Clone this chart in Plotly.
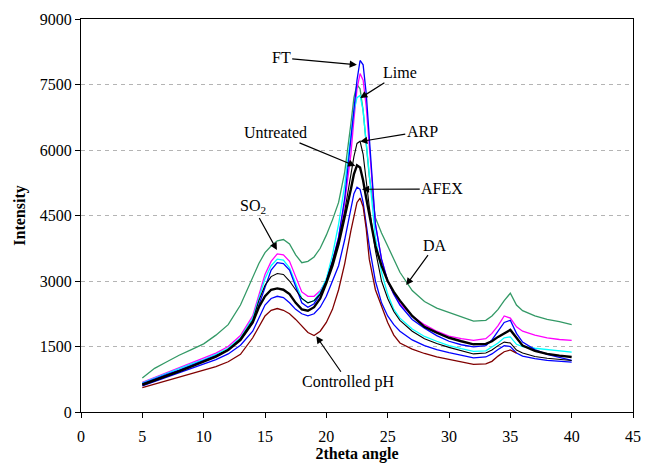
import plotly.graph_objects as go

X = [5, 6, 7, 8, 9, 10, 11, 12, 13, 14, 14.5, 15, 15.5, 16, 16.5, 17, 17.5, 18, 18.5, 19, 19.5,
     20, 20.5, 21, 21.5, 22, 22.25, 22.5, 22.75, 23, 23.25, 23.5, 24, 24.5, 25, 25.5, 26, 27, 28,
     29, 30, 31, 32, 33, 33.5, 34, 34.5, 35, 35.5, 36, 37, 38, 39, 40]

DA = [780, 1000, 1150, 1300, 1430, 1560, 1760, 2000, 2450, 3100, 3400, 3650, 3800, 3920, 3950,
      3850, 3600, 3420, 3450, 3550, 3750, 4050, 4400, 4800, 5500, 6600, 7200, 7500, 7400, 6900,
      6200, 5400, 4450, 4100, 3800, 3500, 3200, 2780, 2530, 2380, 2280, 2180, 2080, 2100, 2200,
      2350, 2550, 2720, 2450, 2320, 2200, 2120, 2070, 2000]

FT = [650, 760, 860, 960, 1070, 1170, 1290, 1420, 1650, 2050, 2450, 2900, 3250, 3420, 3400,
      3250, 2850, 2500, 2400, 2480, 2700, 3000, 3450, 4000, 4900, 6200, 6900, 7600, 8050, 7950,
      7300, 6300, 4300, 3500, 3000, 2700, 2450, 2120, 1920, 1750, 1620, 1540, 1490, 1520, 1650,
      1850, 2050, 2100, 1800, 1600, 1430, 1320, 1250, 1180]

SO2 = [680, 790, 900, 1010, 1120, 1230, 1350, 1500, 1750, 2200, 2650, 3150, 3450, 3620, 3600,
       3450, 3100, 2750, 2650, 2650, 2780, 3000, 3450, 4000, 4800, 5900, 6700, 7400, 7750, 7600,
       7000, 6100, 4300, 3500, 3000, 2700, 2480, 2200, 2000, 1850, 1740, 1680, 1640, 1680, 1800,
       1980, 2200, 2150, 1950, 1850, 1760, 1700, 1660, 1640]

LIME = [670, 780, 880, 990, 1100, 1200, 1320, 1460, 1700, 2150, 2600, 3050, 3350, 3500, 3480,
        3300, 2950, 2600, 2500, 2550, 2750, 3050, 3600, 4300, 5200, 6300, 6900, 7200, 7250, 6900,
        6200, 5400, 4000, 3200, 2700, 2350, 2150, 1900, 1730, 1620, 1520, 1450, 1390, 1400, 1480,
        1580, 1700, 1720, 1550, 1500, 1460, 1430, 1400, 1370]

UNTREATED = [620, 730, 830, 930, 1040, 1150, 1270, 1420, 1650, 2050, 2400, 2650, 2800, 2830, 2800,
             2700, 2500, 2350, 2320, 2400, 2600, 2950, 3350, 3850, 4450, 5100, 5450, 5650, 5600,
             5300, 4900, 4500, 3800, 3350, 3000, 2750, 2550, 2200, 1950, 1820, 1700, 1620, 1550,
             1560, 1620, 1720, 1800, 1880, 1700, 1520, 1400, 1330, 1290, 1260]

ARP = [640, 740, 840, 940, 1050, 1160, 1280, 1430, 1680, 2100, 2550, 2900, 3100, 3170, 3150,
       3000, 2800, 2600, 2500, 2550, 2700, 3000, 3450, 3950, 4600, 5400, 5850, 6150, 6200, 5900,
       5300, 4700, 3700, 3000, 2600, 2300, 2100, 1850, 1680, 1570, 1480, 1400, 1330, 1350, 1420,
       1520, 1600, 1580, 1420, 1350, 1270, 1230, 1200, 1180]

AFEX = [600, 700, 800, 890, 990, 1090, 1200, 1330, 1530, 1850, 2150, 2450, 2600, 2650, 2620,
        2500, 2350, 2250, 2200, 2250, 2400, 2650, 3000, 3350, 3950, 4700, 5000, 5150, 5100, 4800,
        4300, 3800, 3000, 2500, 2200, 2000, 1850, 1650, 1520, 1430, 1360, 1300, 1240, 1260, 1330,
        1430, 1520, 1500, 1350, 1280, 1220, 1180, 1160, 1140]

X_PH = X[:49]
CONTROLLED_PH = [560, 640, 720, 800, 880, 950, 1040, 1150, 1320, 1700, 1950, 2200, 2330, 2370,
                 2330, 2250, 2120, 1980, 1820, 1750, 1850, 2050, 2350, 2800, 3400, 4150, 4500,
                 4800, 4900, 4700, 4200, 3500, 2800, 2400, 2050, 1760, 1580, 1440, 1340, 1260,
                 1200, 1150, 1090, 1100, 1160, 1280, 1380, 1420, 1350]

X_TICKS = [0, 5, 10, 15, 20, 25, 30, 35, 40, 45]
Y_TICKS = [0, 1500, 3000, 4500, 6000, 7500, 9000]

series = [
    ("DA", X, DA, "#339966", 1.3),
    ("SO2", X, SO2, "#FF00FF", 1.3),
    ("Lime", X, LIME, "#00FFFF", 1.3),
    ("FT", X, FT, "#0000FF", 1.3),
    ("ARP", X, ARP, "#000000", 1.1),
    ("AFEX", X, AFEX, "#0000FF", 1.3),
    ("Controlled pH", X_PH, CONTROLLED_PH, "#800000", 1.3),
    ("Untreated", X, UNTREATED, "#000000", 2.4),
]

fig = go.Figure()
for name, xs, ys, col, w in series:
    fig.add_trace(go.Scatter(x=xs, y=ys, mode="lines", name=name,
                             line=dict(color=col, width=w), showlegend=False))

FONT = "Liberation Serif, Times New Roman, serif"

# labels: (text, text_x, text_y, head_x, head_y)
labels = [
    ("FT", 16.32, 8112, 22.49, 7952),
    ("Lime", 26.02, 7768, 22.76, 7188),
    ("Untreated", 15.84, 6392, 22.36, 5635),
    ("ARP", 27.82, 6429, 22.76, 6193),
    ("AFEX", 29.45, 5108, 22.90, 5101),
    ("DA", 28.88, 3823, 26.51, 2906),
    ("SO<sub>2</sub>", 14.04, 4695, 15.97, 3709),
    ("Controlled pH", 21.78, 681, 19.18, 1736),
]
for txt, tx, ty, hx, hy in labels:
    fig.add_annotation(x=hx, y=hy, ax=tx, ay=ty, axref="x", ayref="y", text=txt,
                       font=dict(family=FONT, size=16, color="black"), borderpad=1,
                       showarrow=True, arrowhead=2, arrowsize=1.2,
                       arrowwidth=1.2, arrowcolor="black")

fig.update_layout(
    width=651, height=464,
    margin=dict(l=81, r=18, t=19, b=52),
    paper_bgcolor="white", plot_bgcolor="white",
    font=dict(family=FONT, size=16, color="black"),
)
fig.update_xaxes(range=[0, 45], tickvals=X_TICKS, showgrid=False, zeroline=False,
                 showline=True, linecolor="black", linewidth=1.3, mirror=True,
                 ticks="outside", ticklen=5, tickcolor="black", ticklabelstandoff=5,
                 automargin=False,
                 tickfont=dict(family=FONT, size=16),
                 title=dict(text="<b>2theta angle</b>", font=dict(family=FONT, size=16), standoff=2))
fig.update_yaxes(range=[0, 9000], tickvals=Y_TICKS, showgrid=True, gridcolor="#b4b4b4",
                 griddash="4px,4px", gridwidth=1, zeroline=False,
                 showline=True, linecolor="black", linewidth=1.3, mirror=True,
                 ticks="outside", ticklen=5, tickcolor="black", automargin=False,
                 tickfont=dict(family=FONT, size=16),
                 title=dict(text="<b>Intensity</b>", font=dict(family=FONT, size=16), standoff=10))

fig.write_html("out.html")
